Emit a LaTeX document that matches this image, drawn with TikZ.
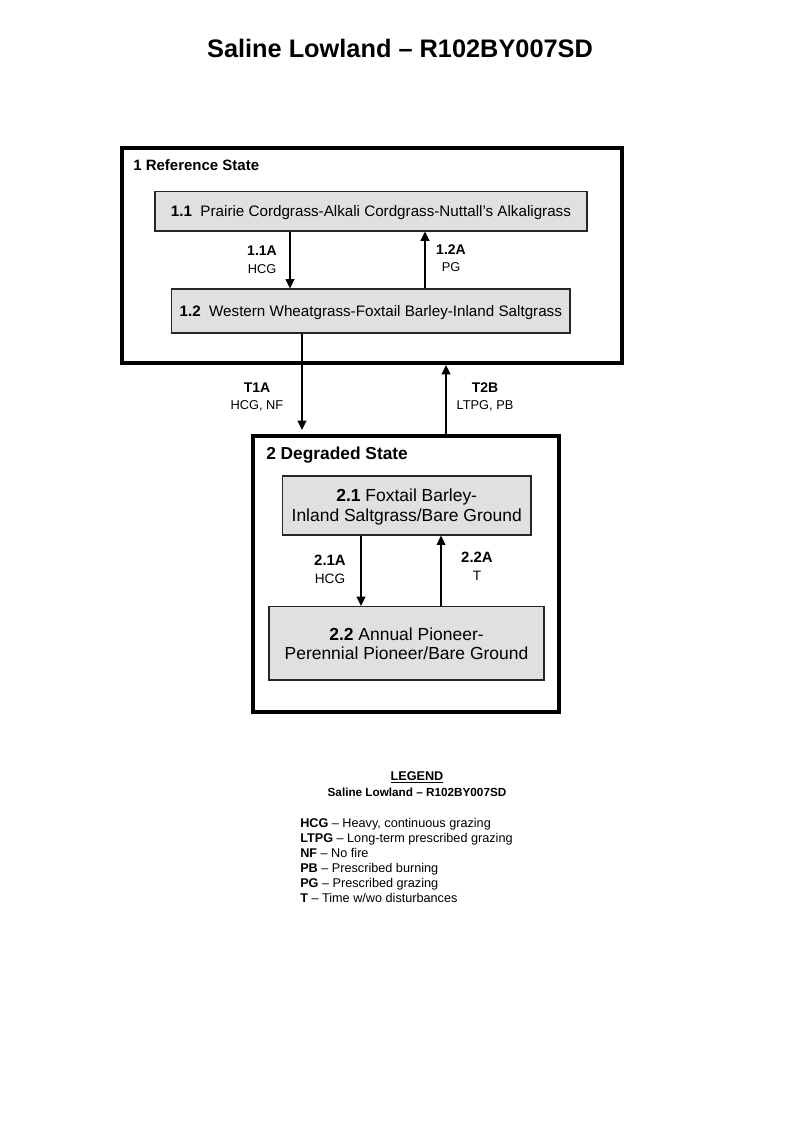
\documentclass[tikz,border=0pt]{standalone}
\usepackage{fontspec}
\setmainfont{Liberation Sans}
\usetikzlibrary{arrows.meta, positioning}

\begin{document}
\begin{tikzpicture}[
    x=0.75pt, y=-0.75pt,
    >=Stealth,
    % State box styles
    statebox/.style={rectangle, draw=black, line width=3pt, inner sep=0pt},
    statetitle/.style={anchor=west, inner sep=0pt, text depth=0pt, font=\bfseries},
    % Community phase box style
    phasebox/.style={rectangle, draw=black!85, fill=black!12, line width=0.9pt, align=center, inner sep=0pt, text depth=0pt},
    % Transition arrow style
    flow/.style={-{Triangle[length=7pt, width=6.5pt]}, line width=1.3pt},
    % Pathway label style
    pathlabel/.style={align=center, anchor=north, inner sep=0pt, font=\fontsize{9.6}{13}\selectfont},
    % Legend text style
    legendtext/.style={anchor=base west, inner sep=0pt, font=\fontsize{9.5}{11.5}\selectfont}
]
    \useasboundingbox (0,0) rectangle (800,1143);

    % === TITLE ===
    \node[font=\fontsize{19}{22}\selectfont\bfseries] (title) at (400,48) {Saline Lowland -- R102BY007SD};

    % === STATE 1 ===
    \node[statebox, minimum width=375pt, minimum height=161.25pt] (ref) at (372,255.5) {};
    \node[statetitle, font=\fontsize{11.25}{13}\selectfont\bfseries] (reft) at (133,165) {1 Reference State};

    \node[phasebox, font=\fontsize{11.4}{13}\selectfont, minimum width=324pt, minimum height=29.5pt] (p11) at (371,211.3)
        {\textbf{1.1}\hspace{0.55em}Prairie Cordgrass-Alkali Cordgrass-Nuttall's Alkaligrass};
    \node[phasebox, font=\fontsize{11.4}{13}\selectfont, minimum width=298.7pt, minimum height=33pt] (p12) at (370.8,311)
        {\textbf{1.2}\hspace{0.55em}Western Wheatgrass-Foxtail Barley-Inland Saltgrass};

    % Pathways State 1
    \coordinate (x11a) at (290,0);
    \coordinate (x12a) at (425,0);
    \draw[flow] (p11.south -| x11a) -- (p12.north -| x11a);
    \draw[flow] (p12.north -| x12a) -- (p11.south -| x12a);
    \node[pathlabel] (l11a) at (262,246) {{\fontsize{10.5}{13}\selectfont\bfseries 1.1A}\\HCG};
    \node[pathlabel] (l12a) at (451,244.5) {{\fontsize{10.5}{13}\selectfont\bfseries 1.2A}\\PG};

    % === STATE 2 ===
    \node[statebox, minimum width=229.5pt, minimum height=206.8pt] (deg) at (406.3,573.8) {};
    \node[statetitle, font=\fontsize{13}{15}\selectfont\bfseries] (degt) at (266,453) {2 Degraded State};

    \node[phasebox, font=\fontsize{13.1}{14.8}\selectfont, minimum width=186.5pt, minimum height=44.25pt] (p21) at (406.7,505.5)
        {\textbf{2.1} Foxtail Barley-\\Inland Saltgrass/Bare Ground};
    \node[phasebox, font=\fontsize{13.1}{14.3}\selectfont, minimum width=206.25pt, minimum height=55pt] (p22) at (406.5,643.3)
        {\textbf{2.2} Annual Pioneer-\\Perennial Pioneer/Bare Ground};

    % Pathways State 2
    \coordinate (x21a) at (361,0);
    \coordinate (x22a) at (441,0);
    \draw[flow] (p21.south -| x21a) -- (p22.north -| x21a);
    \draw[flow] (p22.north -| x22a) -- (p21.south -| x22a);
    \node[pathlabel, font=\fontsize{10.2}{13.5}\selectfont] (l21a) at (330,554.3) {{\fontsize{11.2}{13.5}\selectfont\bfseries 2.1A}\\HCG};
    \node[pathlabel, font=\fontsize{10.2}{13.5}\selectfont] (l22a) at (477,551.7) {{\fontsize{11.2}{13.5}\selectfont\bfseries 2.2A}\\T};

    % === TRANSITIONS ===
    \coordinate (xt1a) at (302,0);
    \coordinate (xt2b) at (446,0);
    \draw[flow, shorten >=3pt] (p12.south -| xt1a) -- (deg.north -| xt1a);
    \draw[flow] (deg.north -| xt2b) -- (ref.south -| xt2b);
    \node[pathlabel] (lt1a) at (257,382.3) {{\fontsize{10.5}{13}\selectfont\bfseries T1A}\\HCG, NF};
    \node[pathlabel] (lt2b) at (485,382.3) {{\fontsize{10.5}{13}\selectfont\bfseries T2B}\\LTPG, PB};

    % === LEGEND ===
    \node[font=\fontsize{9.5}{11.5}\selectfont\bfseries] (legt) at (417,777) {\underline{LEGEND}};
    \node[font=\fontsize{8.8}{11}\selectfont\bfseries] (legs) at (417,792) {Saline Lowland -- R102BY007SD};

    \foreach \abbr/\desc [count=\i] in {HCG/{Heavy, continuous grazing}, LTPG/{Long-term prescribed grazing},
        NF/{No fire}, PB/{Prescribed burning}, PG/{Prescribed grazing}, T/{Time w/wo disturbances}} {
        \node[legendtext] (leg\i) at (300,{827+15.1*(\i-1)}) {\textbf{\abbr} -- \desc};
    }

\end{tikzpicture}
\end{document}
